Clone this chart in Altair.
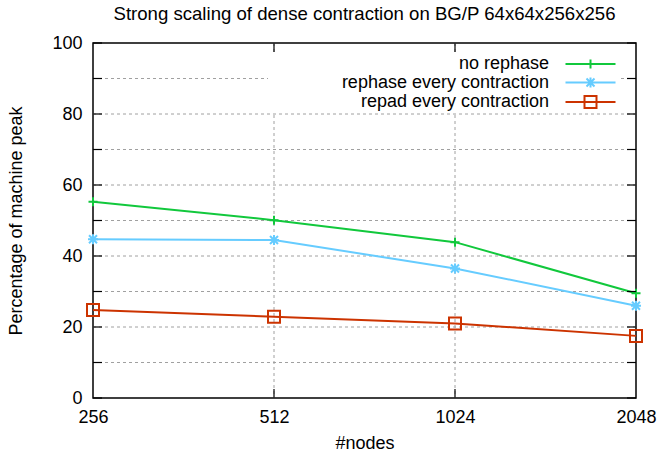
import altair as alt
import pandas as pd

# Node counts (log2 x axis) and peak percentages per variant
nodes = [256, 512, 1024, 2048]
series = ["no rephase", "rephase every contraction", "repad every contraction"]
no_rephase = [55.3, 50.1, 43.9, 29.5]
rephase_every = [44.7, 44.5, 36.5, 26.0]
repad_every = [24.8, 22.9, 21.0, 17.5]
colors = ["#11c83c", "#66ccff", "#cc3300"]

y_tick_values = list(range(0, 101, 10))
y_label_values = list(range(0, 101, 20))
grid_y_values = list(range(10, 100, 10))
grid_x_values = [512, 1024]

W, H = 543, 355
TICK = 9
FONT = "Liberation Sans"

rows = []
for name, vals in zip(series, [no_rephase, rephase_every, repad_every]):
    for n, v in zip(nodes, vals):
        rows.append({"nodes": n, "series": name, "value": v})
df = pd.DataFrame(rows)

xscale = alt.Scale(type="log", base=2, domain=[256, 2048], nice=False)
yscale = alt.Scale(domain=[0, 100], nice=False)

x_axis = alt.Axis(
    values=nodes, format="d", title="#nodes", tickSize=0, domain=False,
    grid=False, labelPadding=10, labelFontSize=18, labelFont=FONT,
    labelColor="black", labelFlush=False, labelOverlap=False,
    titleFontSize=18, titleFont=FONT,
    titleFontWeight="normal", titleColor="black", titlePadding=8,
)
y_axis = alt.Axis(
    values=y_label_values, title="Percentage of machine peak", tickSize=0,
    domain=False, grid=False, labelPadding=11, labelFontSize=18,
    labelFont=FONT, labelColor="black", labelFlush=False, labelOverlap=False,
    titleFontSize=18, titleFont=FONT,
    titleFontWeight="normal", titleColor="black", titlePadding=26,
)


def xq(field):
    return alt.X(f"{field}:Q", scale=xscale, axis=x_axis)


def yq(field):
    return alt.Y(f"{field}:Q", scale=yscale, axis=y_axis)


# symbols: markers on the data, and line+marker samples for the key
marker_paths = [
    "M-0.9,0H0.9M0,-0.9V0.9",
    "M-1,0H1M0,-1V1M-0.8,-0.8L0.8,0.8M-0.8,0.8L0.8,-0.8",
    "M-1.2,-1.2H1.2V1.2H-1.2Z",
]
key_paths = [
    "M-5,0H5M0,-0.9V0.9",
    "M-5,0H5M0,-1V1M-0.8,-0.8L0.8,0.8M-0.8,0.8L0.8,-0.8",
    "M-5,0H-1.2M1.2,0H5M-1.2,-1.2H1.2V1.2H-1.2ZM-1.2,0H1.2",
]

color_plain = alt.Color("series:N", scale=alt.Scale(domain=series, range=colors), legend=None)

# dashed grid
grid_h = alt.Chart(pd.DataFrame({"g": grid_y_values})).mark_rule(
    color="#a0a0a0", strokeWidth=1, strokeDash=[3, 3]
).encode(y=yq("g"))
grid_v = alt.Chart(pd.DataFrame({"g": grid_x_values})).mark_rule(
    color="#a0a0a0", strokeWidth=1, strokeDash=[3, 3]
).encode(x=xq("g"))

# inward ticks on all four sides
ydf = pd.DataFrame({"t": y_tick_values})
xdf = pd.DataFrame({"t": grid_x_values})
tick_style = dict(color="black", strokeWidth=1.2)
ticks_left = alt.Chart(ydf).mark_rule(**tick_style).encode(
    y=yq("t"), x=alt.value(0), x2=alt.value(TICK))
ticks_right = alt.Chart(ydf).mark_rule(**tick_style).encode(
    y=yq("t"), x=alt.value(W - TICK), x2=alt.value(W))
ticks_bottom = alt.Chart(xdf).mark_rule(**tick_style).encode(
    x=xq("t"), y=alt.value(H - TICK), y2=alt.value(H))
ticks_top = alt.Chart(xdf).mark_rule(**tick_style).encode(
    x=xq("t"), y=alt.value(0), y2=alt.value(TICK))

base = alt.Chart(df)

lines = base.mark_line(strokeWidth=2).encode(
    x=xq("nodes"), y=yq("value"), color=color_plain, detail="series:N")

markers = base.mark_point(filled=False, size=100, strokeWidth=2, opacity=1).encode(
    x=xq("nodes"),
    y=yq("value"),
    color=color_plain,
    shape=alt.Shape("series:N", scale=alt.Scale(domain=series, range=marker_paths), legend=None),
)

key_legend = alt.Legend(
    title=None, orient="none", legendX=175, legendY=12, direction="vertical",
    labelAlign="right", labelOffset={"expr": "-50.5"}, symbolOffset=313.5,
    symbolSize=100, symbolStrokeWidth=2, symbolOpacity=1, fillColor="white",
    padding=0, rowPadding=0.5, labelFontSize=18, labelFont=FONT,
    labelColor="black", labelLimit=500,
)
key = base.mark_point(filled=False, size=100, strokeWidth=2, opacity=0).encode(
    x=xq("nodes"),
    y=yq("value"),
    color=alt.Color("series:N", scale=alt.Scale(domain=series, range=colors), legend=key_legend),
    shape=alt.Shape("series:N", scale=alt.Scale(domain=series, range=key_paths), legend=key_legend),
)

chart = alt.layer(
    grid_h, grid_v, lines, markers, key,
    ticks_left, ticks_right, ticks_bottom, ticks_top,
).resolve_scale(
    shape="independent", color="independent"
).properties(
    width=W, height=H,
    title=alt.Title(
        "Strong scaling of dense contraction on BG/P 64x64x256x256",
        fontSize=18.6, fontWeight="normal", font=FONT, color="black",
        anchor="middle", offset=10,
    ),
    autosize=alt.AutoSizeParams(type="none"),
    padding={"left": 93, "top": 43, "right": 21, "bottom": 54},
    background="white",
).configure_view(
    stroke="black", strokeWidth=1.5
)

chart.save("out.html", embed_options={"renderer": "svg", "actions": False})
